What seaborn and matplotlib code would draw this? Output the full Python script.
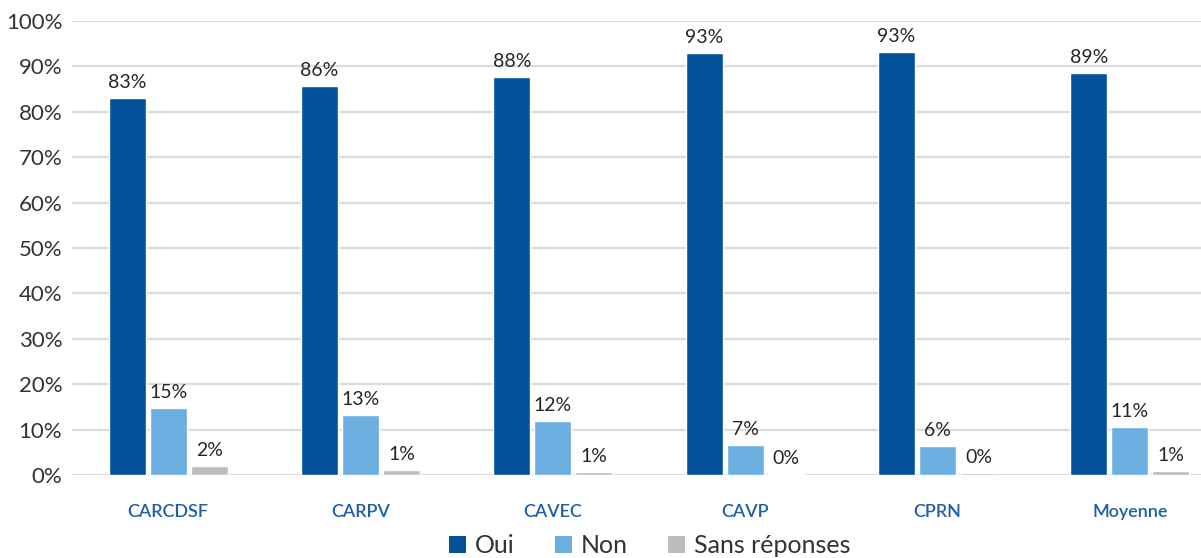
import numpy as np
import pandas as pd
import seaborn as sns
import matplotlib.pyplot as plt
from matplotlib.patches import Patch


caisses = ['CARCDSF', 'CARPV', 'CAVEC', 'CAVP', 'CPRN', 'Moyenne']
oui = [83.0, 85.7, 87.6, 93.0, 93.2, 88.6]
non = [14.8, 13.2, 11.9, 6.6, 6.4, 10.6]
sans_rep = [2.0, 1.1, 0.6, 0.2, 0.4, 0.9]
series = ['Oui', 'Non', 'Sans réponses']
colors = ['#04519B', '#6BAEE0', '#BDBDBD']


def main():
    df = pd.DataFrame({
        'caisse': caisses * 3,
        'reponse': [s for s in series for _ in caisses],
        'pct': oui + non + sans_rep,
    })

    sns.set_style('white')
    plt.rcParams['font.family'] = ['Lato', 'DejaVu Sans']

    fig = plt.figure(figsize=(12.01, 5.58), dpi=100)
    ax = fig.add_axes([72 / 1201, 83 / 558, 1154 / 1201, 454 / 558])
    sns.barplot(data=df, x='caisse', y='pct', hue='reponse',
                hue_order=series, palette=colors, width=0.64, gap=0.1,
                saturation=1, legend=False, ax=ax)

    # value labels, rounded like the source
    for cont, vals in zip(ax.containers, [oui, non, sans_rep]):
        ax.bar_label(cont, labels=['{:.0f}%'.format(v) for v in vals],
                     padding=5, fontsize=14, color='#262626')

    ax.set_xlim(-0.5, 5.5)
    ax.set_ylim(0, 100)
    ax.set_yticks(np.arange(0, 101, 10))
    ax.set_yticklabels(['{}%'.format(t) for t in range(0, 101, 10)],
                       fontsize=16, color='#333333')
    ax.tick_params(axis='y', length=0, pad=7)
    ax.tick_params(axis='x', length=0, pad=21)
    for lab in ax.get_xticklabels():
        lab.set_color('#1F5FA6')
        lab.set_fontsize(13)
        lab.set_fontweight('semibold')
    ax.set_xlabel('')
    ax.set_ylabel('')
    ax.yaxis.grid(True, color='#DCDCDC', linewidth=1.6)
    ax.set_axisbelow(True)
    sns.despine(ax=ax, left=True, bottom=True)

    handles = [Patch(facecolor=c, edgecolor='none') for c in colors]
    fig.legend(handles, series, loc='center', bbox_to_anchor=(0.541, 0.022),
               ncol=3, frameon=False, fontsize=18, handlelength=0.7,
               handleheight=0.7, handletextpad=0.35, columnspacing=1.6,
               labelcolor='#333333')

    fig.savefig('out.png', dpi=100)
    plt.close(fig)


if __name__ == '__main__':
    main()
